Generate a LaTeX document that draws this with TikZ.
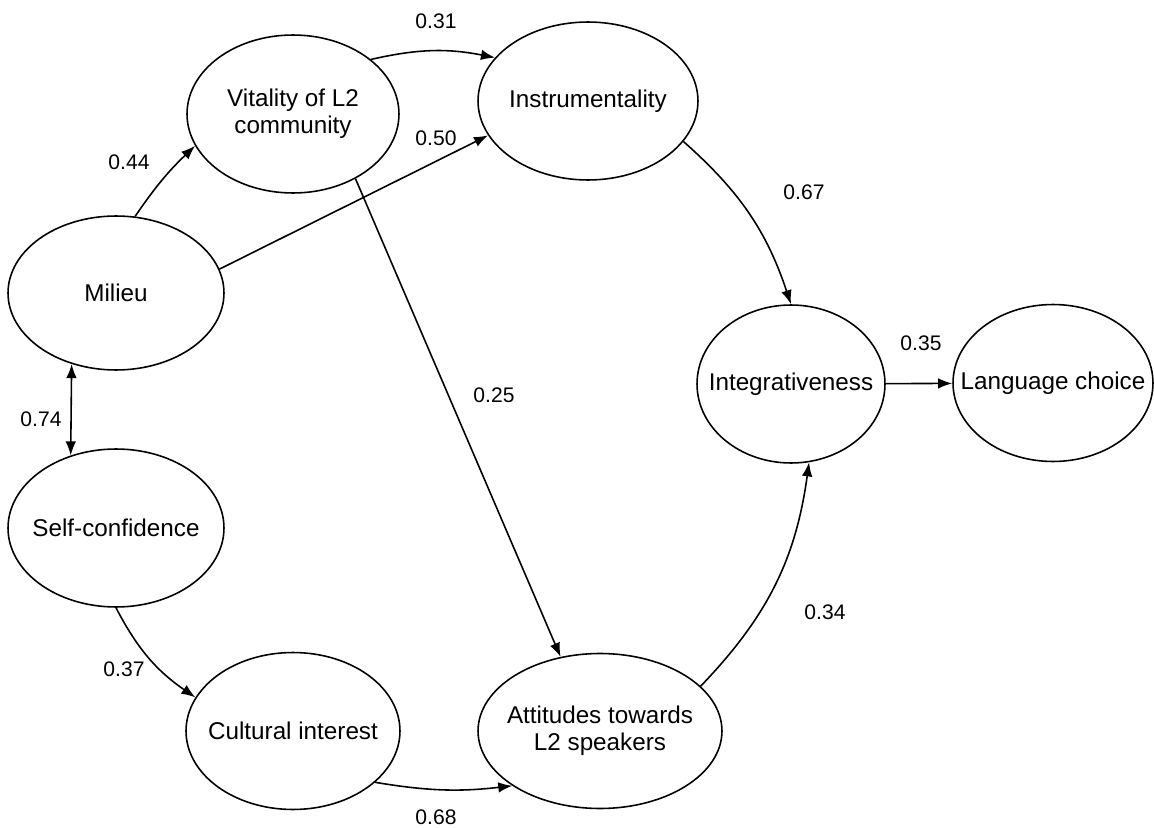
\documentclass[tikz,border=0pt]{standalone}
\usepackage{fontspec}
\setmainfont{Liberation Sans}
\usetikzlibrary{shapes.geometric,arrows.meta}
\tikzset{
  latent/.style 2 args={draw, ellipse, line width=0.9pt, inner xsep=-2cm, inner ysep=0pt,
    minimum width=#1, minimum height=#2, align=center, font=\fontsize{13.8}{15.5}\selectfont},
  effect/.style={draw, line width=0.9pt, -{Latex[length=8pt,width=6pt]}},
  coef/.style={font=\fontsize{12}{14}\selectfont}
}
\begin{document}
\begin{tikzpicture}[x=0.02cm,y=-0.02cm]
\useasboundingbox (0,0) rectangle (1154,828);
% Constructs
\node[latent={4.24cm}{3.16cm}] (V) at (293,114) {Vitality of L2\\community};
\node[latent={4.4cm}{3.16cm}] (I) at (588,101) {Instrumentality};
\node[latent={4.32cm}{3.08cm}] (M) at (116,293) {Milieu};
\node[latent={4.32cm}{3.16cm}] (S) at (116,528) {Self-confidence};
\node[latent={4.28cm}{3.14cm}] (C) at (293,731) {Cultural interest};
\node[latent={4.88cm}{3.1cm}] (A) at (600,731) {Attitudes towards\\L2 speakers};
\node[latent={3.76cm}{3.16cm}] (G) at (791,384) {Integrativeness};
\node[latent={4.0cm}{3.14cm}] (L) at (1053,383) {Language choice};
% Paths
\draw[effect] (M.76) to[bend left=6] (V.198);
\draw[effect] (V.35) to[bend left=12] (I.155);
\draw[effect] (M.13) -- (I.199);
\draw[effect] (V.314) -- (A.118);
\draw[effect,{Latex[length=8pt,width=6pt]}-{Latex[length=8pt,width=6pt]}] (M.238) -- (S.122);
\draw[effect] (S.south) to[bend right=14] (C.161);
\draw[effect] (C.328) to[bend right=8] (A.212);
\draw[effect] (I.337) to[bend left=15] (G.north);
\draw[effect] (A.24) to[bend right=18] (G.283);
\draw[effect] (G) -- (L);
% Coefficients
\node[coef] (c31) at (436,21) {0.31};
\node[coef] (c50) at (436,138) {0.50};
\node[coef] (c44) at (129,162) {0.44};
\node[coef] (c25) at (494,395) {0.25};
\node[coef] (c74) at (41,419) {0.74};
\node[coef] (c37) at (124,669) {0.37};
\node[coef] (c68) at (436,817) {0.68};
\node[coef] (c67) at (804,192) {0.67};
\node[coef] (c35) at (921,343) {0.35};
\node[coef] (c34) at (825,612) {0.34};
\end{tikzpicture}
\end{document}
